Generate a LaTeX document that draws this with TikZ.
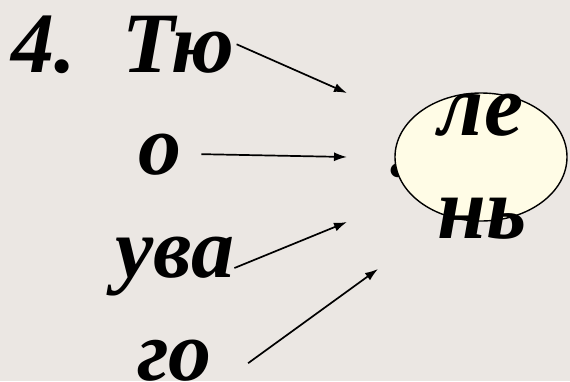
\documentclass[tikz,border=0pt]{standalone}
\usepackage{fontspec}
\setmainfont{Liberation Serif}
\usepackage{tikz}
\usetikzlibrary{arrows.meta, positioning, shapes.geometric}
\definecolor{slidebg}{RGB}{235,231,227}
\definecolor{ovalfill}{RGB}{255,252,230}

\begin{document}
\begin{tikzpicture}[
    x=1pt, y=-1pt,
    word/.style={inner sep=0pt, anchor=base west, font=\fontsize{86}{86}\selectfont\bfseries\itshape},
    part/.style={inner sep=0pt, anchor=base, font=\fontsize{88}{88}\selectfont\bfseries\itshape},
    oval/.style={ellipse, draw, line width=1.4pt, fill=ovalfill, minimum width=172pt, minimum height=128pt},
    arr/.style={-{Latex[length=13pt, width=9pt]}, line width=1.7pt}
]
% Background
\fill[slidebg] (0,0) rectangle (570,381);
\useasboundingbox (0,0) rectangle (570,381);

% Words
\node[word] (num)  at (11,72)  {4.};
\node[word] (tu)   at (122,72) {Тю};
\node[word] (o)    at (138,174) {о};
\node[word] (uva)  at (115,277) {ува};
\node[word] (go)   at (137,380) {го};

% Dot and oval
\node[word] (dot) at (390,176) {.};
\node[oval] (len) at (481,157) {};
\node[part] (le) at (481,135) {ле};
\node[part] (n)  at (482,238) {нь};

% Arrow ends
\coordinate (t1) at (347,93);
\coordinate (t2) at (347,157);
\coordinate (t3) at (347,222);
\coordinate (t4) at (378,269);

% Arrows
\draw[arr] ([xshift=2pt]tu.east)  -- (t1);
\draw[arr] ([xshift=20pt]o.east)  -- (t2);
\draw[arr] ([yshift=-2pt]uva.east) -- (t3);
\draw[arr] ([xshift=36pt, yshift=-3pt]go.east) -- (t4);
\end{tikzpicture}
\end{document}
